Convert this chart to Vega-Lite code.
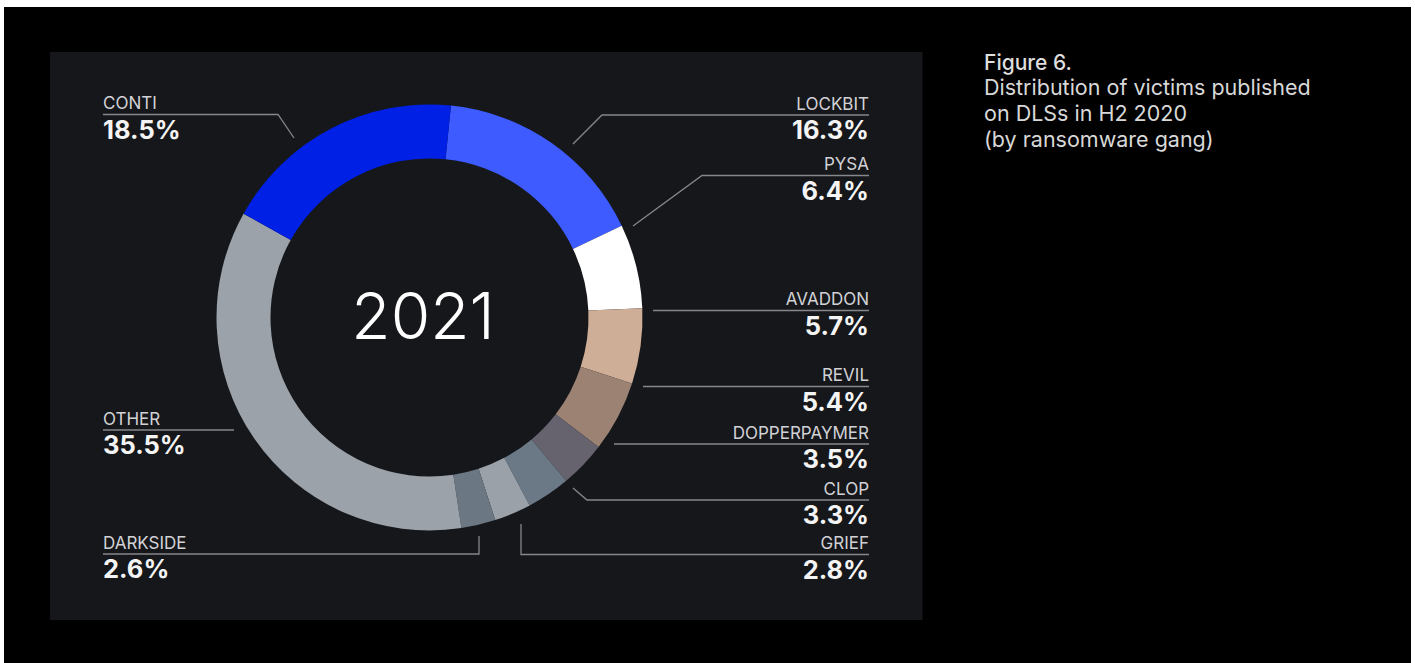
{
  "$schema": "https://vega.github.io/schema/vega-lite/v6.json",
  "width": 1415,
  "height": 663,
  "autosize": {"type": "fit", "contains": "padding"},
  "padding": 0,
  "background": "white",
  "config": {"view": {"stroke": null}},
  "datasets": {
    "slices": [
      {"gang": "LOCKBIT", "pct": 16.3, "order": 1},
      {"gang": "PYSA", "pct": 6.4, "order": 2},
      {"gang": "AVADDON", "pct": 5.7, "order": 3},
      {"gang": "REVIL", "pct": 5.4, "order": 4},
      {"gang": "DOPPERPAYMER", "pct": 3.5, "order": 5},
      {"gang": "CLOP", "pct": 3.3, "order": 6},
      {"gang": "GRIEF", "pct": 2.8, "order": 7},
      {"gang": "DARKSIDE", "pct": 2.6, "order": 8},
      {"gang": "OTHER", "pct": 35.5, "order": 9},
      {"gang": "CONTI", "pct": 18.5, "order": 10}
    ],
    "labels": [
      {"gang": "CONTI", "side": "left", "lx": 103, "ly": 114.5},
      {"gang": "OTHER", "side": "left", "lx": 103, "ly": 430},
      {"gang": "DARKSIDE", "side": "left", "lx": 103, "ly": 554},
      {"gang": "LOCKBIT", "side": "right", "lx": 869, "ly": 115},
      {"gang": "PYSA", "side": "right", "lx": 869, "ly": 175.5},
      {"gang": "AVADDON", "side": "right", "lx": 869, "ly": 310.5},
      {"gang": "REVIL", "side": "right", "lx": 869, "ly": 386.5},
      {"gang": "DOPPERPAYMER", "side": "right", "lx": 869, "ly": 444},
      {"gang": "CLOP", "side": "right", "lx": 869, "ly": 500},
      {"gang": "GRIEF", "side": "right", "lx": 869, "ly": 554.5}
    ],
    "leaders": [
      {"gang": "CONTI", "seq": 1, "px": 103, "py": 114.5},
      {"gang": "CONTI", "seq": 2, "px": 278, "py": 114.5},
      {"gang": "CONTI", "seq": 3, "px": 294, "py": 138},
      {"gang": "LOCKBIT", "seq": 1, "px": 869, "py": 115},
      {"gang": "LOCKBIT", "seq": 2, "px": 602, "py": 115},
      {"gang": "LOCKBIT", "seq": 3, "px": 573, "py": 144},
      {"gang": "PYSA", "seq": 1, "px": 869, "py": 175.5},
      {"gang": "PYSA", "seq": 2, "px": 702, "py": 175.5},
      {"gang": "PYSA", "seq": 3, "px": 633, "py": 226},
      {"gang": "AVADDON", "seq": 1, "px": 869, "py": 310.5},
      {"gang": "AVADDON", "seq": 2, "px": 653, "py": 310.5},
      {"gang": "REVIL", "seq": 1, "px": 869, "py": 386.5},
      {"gang": "REVIL", "seq": 2, "px": 643, "py": 386.5},
      {"gang": "DOPPERPAYMER", "seq": 1, "px": 869, "py": 444},
      {"gang": "DOPPERPAYMER", "seq": 2, "px": 614, "py": 444},
      {"gang": "CLOP", "seq": 1, "px": 869, "py": 500},
      {"gang": "CLOP", "seq": 2, "px": 587, "py": 500},
      {"gang": "CLOP", "seq": 3, "px": 573, "py": 488},
      {"gang": "GRIEF", "seq": 1, "px": 869, "py": 554.5},
      {"gang": "GRIEF", "seq": 2, "px": 521, "py": 554.5},
      {"gang": "GRIEF", "seq": 3, "px": 521, "py": 524},
      {"gang": "OTHER", "seq": 1, "px": 103, "py": 430},
      {"gang": "OTHER", "seq": 2, "px": 234, "py": 430},
      {"gang": "DARKSIDE", "seq": 1, "px": 103, "py": 554},
      {"gang": "DARKSIDE", "seq": 2, "px": 479, "py": 554},
      {"gang": "DARKSIDE", "seq": 3, "px": 479, "py": 536}
    ]
  },
  "layer": [
    {
      "data": {"values": [{"x": 4, "x2": 1411, "y": 7, "y2": 663}]},
      "mark": {"type": "rect", "color": "#000000"},
      "encoding": {
        "x": {"field": "x", "type": "quantitative", "scale": {"domain": [0, 1415], "nice": false, "zero": false}, "axis": null},
        "x2": {"field": "x2"},
        "y": {"field": "y", "type": "quantitative", "scale": {"domain": [0, 663], "nice": false, "zero": false, "reverse": true}, "axis": null},
        "y2": {"field": "y2"}
      }
    },
    {
      "data": {"values": [{"x": 50, "x2": 922.5, "y": 52, "y2": 620}]},
      "mark": {"type": "rect", "color": "#16171b"},
      "encoding": {
        "x": {"field": "x", "type": "quantitative", "axis": null},
        "x2": {"field": "x2"},
        "y": {"field": "y", "type": "quantitative", "axis": null},
        "y2": {"field": "y2"}
      }
    },
    {
      "data": {"name": "slices"},
      "mark": {"type": "arc", "outerRadius": 213, "innerRadius": 159},
      "encoding": {
        "x": {"datum": 429.5, "type": "quantitative", "axis": null},
        "y": {"datum": 317.5, "type": "quantitative", "axis": null},
        "theta": {"field": "pct", "type": "quantitative", "stack": true, "scale": {"domain": [0, 100], "range": [0.101, 6.3842]}},
        "color": {
          "field": "gang",
          "type": "nominal",
          "scale": {
            "domain": ["LOCKBIT", "PYSA", "AVADDON", "REVIL", "DOPPERPAYMER", "CLOP", "GRIEF", "DARKSIDE", "OTHER", "CONTI"],
            "range": ["#3d5bff", "#ffffff", "#cfae98", "#9b8272", "#66636e", "#6b7886", "#9aa1a9", "#6b7783", "#9ba2aa", "#0020e6"]
          },
          "legend": null
        },
        "order": {"field": "order", "type": "quantitative"}
      }
    },
    {
      "data": {"name": "leaders"},
      "mark": {"type": "line", "color": "#86878b", "strokeWidth": 1.3},
      "encoding": {
        "x": {"field": "px", "type": "quantitative", "axis": null},
        "y": {"field": "py", "type": "quantitative", "axis": null},
        "detail": {"field": "gang"},
        "order": {"field": "seq", "type": "quantitative"}
      }
    },
    {
      "data": {"name": "labels"},
      "transform": [{"filter": "datum.side === 'left'"}],
      "mark": {"type": "text", "align": "left", "baseline": "alphabetic", "dy": -5.5, "font": "Inter", "fontSize": 17, "color": "#d2d2d6"},
      "encoding": {
        "x": {"field": "lx", "type": "quantitative", "axis": null},
        "y": {"field": "ly", "type": "quantitative", "axis": null},
        "text": {"field": "gang"}
      }
    },
    {
      "data": {"name": "labels"},
      "transform": [{"filter": "datum.side === 'right'"}],
      "mark": {"type": "text", "align": "right", "baseline": "alphabetic", "dy": -5.5, "font": "Inter", "fontSize": 17, "color": "#d2d2d6"},
      "encoding": {
        "x": {"field": "lx", "type": "quantitative", "axis": null},
        "y": {"field": "ly", "type": "quantitative", "axis": null},
        "text": {"field": "gang"}
      }
    },
    {
      "data": {"name": "labels"},
      "transform": [
        {"filter": "datum.side === 'left'"},
        {"lookup": "gang", "from": {"data": {"name": "slices"}, "key": "gang", "fields": ["pct"]}},
        {"calculate": "format(datum.pct, '.1f') + '%'", "as": "pctText"}
      ],
      "mark": {"type": "text", "align": "left", "baseline": "alphabetic", "dy": 24.4, "font": "Inter", "fontSize": 25.5, "fontWeight": "bold", "color": "#f4f4f4"},
      "encoding": {
        "x": {"field": "lx", "type": "quantitative", "axis": null},
        "y": {"field": "ly", "type": "quantitative", "axis": null},
        "text": {"field": "pctText"}
      }
    },
    {
      "data": {"name": "labels"},
      "transform": [
        {"filter": "datum.side === 'right'"},
        {"lookup": "gang", "from": {"data": {"name": "slices"}, "key": "gang", "fields": ["pct"]}},
        {"calculate": "format(datum.pct, '.1f') + '%'", "as": "pctText"}
      ],
      "mark": {"type": "text", "align": "right", "baseline": "alphabetic", "dy": 24.4, "font": "Inter", "fontSize": 25.5, "fontWeight": "bold", "color": "#f4f4f4"},
      "encoding": {
        "x": {"field": "lx", "type": "quantitative", "axis": null},
        "y": {"field": "ly", "type": "quantitative", "axis": null},
        "text": {"field": "pctText"}
      }
    },
    {
      "data": {"values": [{"t": "2021"}]},
      "mark": {"type": "text", "align": "center", "baseline": "alphabetic", "font": "Inter", "fontSize": 64, "fontWeight": 300, "color": "#ffffff"},
      "encoding": {
        "x": {"datum": 423, "type": "quantitative", "axis": null},
        "y": {"datum": 338.5, "type": "quantitative", "axis": null},
        "text": {"field": "t"}
      }
    },
    {
      "data": {"values": [{"t": "Figure 6."}]},
      "mark": {"type": "text", "align": "left", "baseline": "alphabetic", "font": "Inter", "fontSize": 21, "fontWeight": 500, "color": "#dedede"},
      "encoding": {
        "x": {"datum": 984, "type": "quantitative", "axis": null},
        "y": {"datum": 70, "type": "quantitative", "axis": null},
        "text": {"field": "t"}
      }
    },
    {
      "data": {"values": [{"id": 1}]},
      "mark": {"type": "text", "align": "left", "baseline": "alphabetic", "font": "Inter", "fontSize": 21.5, "lineHeight": 26, "color": "#d8d8d8",
        "text": ["Distribution of victims published", "on DLSs in H2 2020", "(by ransomware gang)"]},
      "encoding": {
        "x": {"datum": 984, "type": "quantitative", "axis": null},
        "y": {"datum": 95, "type": "quantitative", "axis": null}
      }
    }
  ]
}
